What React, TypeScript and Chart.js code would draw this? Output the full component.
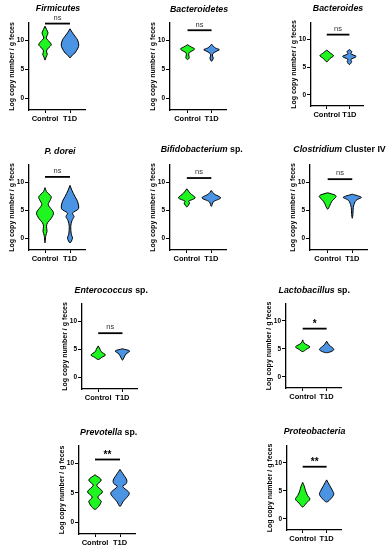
import React, { useEffect, useRef } from 'react';
import { Chart, registerables } from 'chart.js';

Chart.register(...registerables);

// ---------------- data ----------------
const groups = ['Control', 'T1D'];
const yTickValues = [0, 5, 10];
const yAxisLabel = 'Log copy number / g feces';

// violin outlines: [log copy number, half width (category units)], from top to bottom
const firmicutesControl = [[12.45, 0], [11.9, 0.06], [11.3, 0.12], [10.8, 0.08], [10.4, 0.05], [9.8, 0.17], [9.25, 0.25], [8.7, 0.14], [8.2, 0.06], [7.6, 0.09], [7.1, 0.04], [6.6, 0]];
const firmicutesT1D = [[12.0, 0], [11.3, 0.1], [10.6, 0.22], [10.1, 0.3], [9.25, 0.35], [8.7, 0.32], [7.8, 0.19], [7.5, 0.1], [7.0, 0]];
const bacteroidetesControl = [[9.25, 0], [8.85, 0.16], [8.55, 0.29], [8.3, 0.24], [7.9, 0.07], [7.5, 0.05], [7.0, 0.07], [6.7, 0]];
const bacteroidetesT1D = [[9.35, 0], [9.0, 0.07], [8.7, 0.16], [8.4, 0.32], [8.1, 0.19], [7.7, 0.05], [7.3, 0.04], [6.95, 0.07], [6.4, 0]];
const bacteroidesControl = [[8.1, 0], [7.6, 0.15], [7.1, 0.3], [6.6, 0.15], [6.0, 0]];
const bacteroidesT1D = [[8.2, 0], [7.8, 0.11], [7.45, 0.06], [6.95, 0.3], [6.4, 0.06], [6.0, 0.1], [5.5, 0]];
const pDoreiControl = [[9.0, 0], [8.3, 0.06], [7.4, 0.25], [6.9, 0.22], [6.0, 0.13], [4.6, 0.34], [3.6, 0.25], [2.8, 0.1], [2.2, 0.06], [1.3, 0.08], [0.5, 0.03], [-0.75, 0]];
const pDoreiT1D = [[9.4, 0], [8.5, 0.08], [7.4, 0.2], [6.6, 0.3], [5.3, 0.34], [4.5, 0.1], [3.9, 0.16], [3.2, 0.08], [2.2, 0.03], [0.8, 0.05], [0.1, 0.1], [-0.75, 0]];
const bifidoControl = [[8.8, 0], [8.0, 0.14], [7.2, 0.34], [6.6, 0.07], [6.3, 0.11], [5.6, 0]];
const bifidoT1D = [[8.5, 0], [7.9, 0.11], [7.2, 0.38], [6.5, 0.08], [5.7, 0]];
const clostridiumControl = [[8.1, 0], [7.7, 0.3], [7.4, 0.34], [6.6, 0.17], [5.8, 0.08], [5.2, 0]];
const clostridiumT1D = [[7.85, 0], [7.3, 0.37], [6.9, 0.2], [6.5, 0.11], [5.5, 0.04], [4.5, 0.03], [3.6, 0]];
const enterococcusControl = [[5.6, 0], [5.0, 0.08], [4.6, 0.12], [4.0, 0.3], [3.6, 0.15], [3.2, 0]];
const enterococcusT1D = [[5.1, 0], [4.7, 0.3], [4.2, 0.15], [3.6, 0.07], [3.1, 0]];
const lactobacillusControl = [[6.6, 0], [6.0, 0.06], [5.35, 0.3], [4.9, 0.15], [4.5, 0]];
const lactobacillusT1D = [[6.35, 0], [5.7, 0.1], [4.85, 0.3], [4.3, 0]];
const prevotellaControl = [[8.1, 0], [7.2, 0.25], [6.3, 0.07], [5.2, 0.3], [4.3, 0.11], [3.5, 0.25], [2.2, 0]];
const prevotellaT1D = [[9.0, 0], [8.3, 0.11], [7.2, 0.27], [6.6, 0.25], [6.1, 0.11], [4.95, 0.37], [3.5, 0.12], [2.7, 0]];
const proteobacteriaControl = [[6.5, 0], [5.8, 0.07], [5.0, 0.12], [4.2, 0.2], [3.5, 0.3], [2.8, 0.15], [2.1, 0]];
const proteobacteriaT1D = [[6.95, 0], [6.0, 0.12], [5.0, 0.25], [4.4, 0.3], [3.7, 0.2], [3.0, 0]];

// medians [Control, T1D]
const medians = [[9.25, 9.25], [8.5, 8.4], [7.1, 7.0], [4.4, 5.3], [7.2, 7.2], [7.0, 7.1], [4.1, 4.4], [5.3, 4.9], [5.0, 5.4], [3.9, 4.6]];
// significance bar heights and labels
const sigHeights = [12.9, 11.75, 10.9, 10.9, 10.7, 10.5, 7.85, 8.6, 10.7, 9.3];
const sigLabels = ['ns', 'ns', 'ns', 'ns', 'ns', 'ns', 'ns', '*', '**', '**'];
// titles: [text, italic]
const titles: [string, boolean][][] = [
  [['Firmicutes', true]],
  [['Bacteroidetes', true]],
  [['Bacteroides', true]],
  [['P. dorei', true]],
  [['Bifidobacterium', true], [' sp.', false]],
  [['Clostridium', true], [' Cluster IV', false]],
  [['Enterococcus', true], [' sp.', false]],
  [['Lactobacillus', true], [' sp.', false]],
  [['Prevotella', true], [' sp.', false]],
  [['Proteobacteria', true]],
];
const violins = [
  [firmicutesControl, firmicutesT1D],
  [bacteroidetesControl, bacteroidetesT1D],
  [bacteroidesControl, bacteroidesT1D],
  [pDoreiControl, pDoreiT1D],
  [bifidoControl, bifidoT1D],
  [clostridiumControl, clostridiumT1D],
  [enterococcusControl, enterococcusT1D],
  [lactobacillusControl, lactobacillusT1D],
  [prevotellaControl, prevotellaT1D],
  [proteobacteriaControl, proteobacteriaT1D],
];

// ---------------- layout (page pixels) ----------------
// axisL: y axis x; ctrl/t1d: category centres; t10/t0: pixel of ticks 10 and 0; title centre
const layouts = [
  { axisL: 29, ctrl: 45, t1d: 70, t10: 40.7, t0: 98.3, tx: 58, ty: 9 },
  { axisL: 170, ctrl: 187.5, t1d: 211.5, t10: 40.7, t0: 98.3, tx: 199, ty: 9.3 },
  { axisL: 310.5, ctrl: 326.7, t1d: 349.3, t10: 39.3, t0: 95, tx: 338, ty: 8.3 },
  { axisL: 29, ctrl: 45, t1d: 70, t10: 181.7, t0: 239, tx: 60, ty: 151.7 },
  { axisL: 170, ctrl: 186.7, t1d: 211, t10: 181.7, t0: 239, tx: 201.7, ty: 150 },
  { axisL: 310, ctrl: 327.7, t1d: 352.3, t10: 181.7, t0: 239, tx: 339.5, ty: 150 },
  { axisL: 81.5, ctrl: 98.3, t1d: 122.7, t10: 321, t0: 377.3, tx: 111.2, ty: 290.7 },
  { axisL: 286, ctrl: 302.7, t1d: 326.7, t10: 321, t0: 377, tx: 314.2, ty: 290.7 },
  { axisL: 79.3, ctrl: 95, t1d: 120, t10: 463.3, t0: 522.3, tx: 108.7, ty: 432.7 },
  { axisL: 287.3, ctrl: 302.7, t1d: 326.7, t10: 462.3, t0: 518.3, tx: 314.5, ty: 431.7 },
];

const FAMILY = '"Liberation Sans", Arial, Helvetica, sans-serif';
const GREEN = '#1ff51f';
const BLUE = '#4b93e3';
const Y_MIN = -2;
const Y_MAX = 13;
const YW = 36;
const TOP = 30;
const RIGHT = 30;
const XH = 24;

function outline(profile: number[][], c: number) {
  const right = profile.map(([y, w]) => ({ x: c + w, y }));
  const left = profile.slice(0, -1).reverse().map(([y, w]) => ({ x: c - w, y }));
  return [...right, ...left];
}

function halfWidthAt(profile: number[][], v: number) {
  for (let i = 0; i < profile.length - 1; i++) {
    const [y0, w0] = profile[i];
    const [y1, w1] = profile[i + 1];
    if (v <= y0 && v >= y1) {
      const t = (y0 - v) / (y0 - y1 || 1);
      return w0 + (w1 - w0) * t;
    }
  }
  return 0;
}

function Panel({ index }: { index: number }) {
  const ref = useRef<HTMLCanvasElement | null>(null);
  const L = layouts[index];
  const uy = (L.t0 - L.t10) / 10;
  const ux = L.t1d - L.ctrl;
  const plotTop = Math.round(L.t10 - (Y_MAX - 10) * uy);
  const plotBottom = Math.round(L.t0 - Y_MIN * uy);
  const axisL = Math.round(L.axisL);
  const xMin = (axisL - L.ctrl) / ux;
  const xMax = 1.6;
  const plotW = Math.round(L.ctrl + xMax * ux - axisL);
  const left = axisL - YW;
  const top = plotTop - TOP;
  const width = YW + plotW + RIGHT;
  const height = TOP + (plotBottom - plotTop) + XH;

  useEffect(() => {
    document.body.style.margin = '0';
    const canvas = ref.current;
    if (!canvas) return;
    const datasets: any[] = [];
    violins[index].forEach((profile, g) => {
      datasets.push({
        data: outline(profile, g),
        fill: 'shape',
        backgroundColor: g === 0 ? GREEN : BLUE,
        borderColor: '#000',
        borderWidth: 1,
        pointRadius: 0,
        tension: 0.3,
      });
      const m = medians[index][g];
      const w = halfWidthAt(profile, m);
      datasets.push({
        data: [{ x: g - w, y: m }, { x: g + w, y: m }],
        fill: false,
        borderColor: '#222',
        borderWidth: 0.8,
        borderDash: [1.5, 1.5],
        pointRadius: 0,
      });
    });
    datasets.push({
      data: [{ x: 0, y: sigHeights[index] }, { x: 1, y: sigHeights[index] }],
      fill: false,
      borderColor: '#000',
      borderWidth: 1.8,
      pointRadius: 0,
      clip: false,
    });

    const titlePlugin = {
      id: 'panelTitle',
      afterDraw(chart: any) {
        const ctx = chart.ctx;
        ctx.save();
        ctx.fillStyle = '#000';
        ctx.textBaseline = 'middle';
        ctx.textAlign = 'left';
        const segs = titles[index];
        const fonts = segs.map(([, it]) => `${it ? 'italic ' : ''}bold 8.8px ${FAMILY}`);
        let total = 0;
        const widths = segs.map(([t], i) => {
          ctx.font = fonts[i];
          const w = ctx.measureText(t).width;
          total += w;
          return w;
        });
        let x = L.tx - left - total / 2;
        const y = L.ty - top;
        segs.forEach(([t], i) => {
          ctx.font = fonts[i];
          ctx.fillText(t, x, y);
          x += widths[i];
        });
        ctx.restore();
      },
    };
    const sigPlugin = {
      id: 'sigText',
      afterDatasetsDraw(chart: any) {
        const { ctx, scales } = chart;
        const px = scales.x.getPixelForValue(0.5);
        const py = scales.y.getPixelForValue(sigHeights[index]);
        const label = sigLabels[index];
        ctx.save();
        ctx.textAlign = 'center';
        ctx.textBaseline = 'bottom';
        if (label === 'ns') {
          ctx.font = `7.5px ${FAMILY}`;
          ctx.fillStyle = '#333';
          ctx.fillText(label, px, py - 2);
        } else {
          ctx.font = `bold 10px ${FAMILY}`;
          ctx.fillStyle = '#000';
          ctx.fillText(label, px, py + 1);
        }
        ctx.restore();
      },
    };

    const chart = new Chart(canvas, {
      type: 'line',
      data: { datasets },
      options: {
        animation: false,
        responsive: false,
        events: [],
        layout: { padding: { top: TOP, right: RIGHT, left: 0, bottom: 0 } },
        plugins: { legend: { display: false }, tooltip: { enabled: false }, title: { display: false } },
        scales: {
          x: {
            type: 'linear',
            min: xMin,
            max: xMax,
            afterFit: (s: any) => { s.height = XH; },
            afterBuildTicks: (s: any) => { s.ticks = [{ value: 0 }, { value: 1 }]; },
            ticks: {
              callback: (v: any) => groups[v],
              font: { family: FAMILY, size: 7.5, weight: 'bold' },
              color: '#000',
              padding: 1,
              maxRotation: 0,
              autoSkip: false,
            },
            grid: { display: true, drawOnChartArea: false, drawTicks: true, tickLength: 3, color: '#000', lineWidth: 1 },
            border: { display: true, color: '#000', width: 1.3 },
          },
          y: {
            type: 'linear',
            min: Y_MIN,
            max: Y_MAX,
            afterFit: (s: any) => { s.width = YW; },
            afterBuildTicks: (s: any) => { s.ticks = yTickValues.map((v) => ({ value: v })); },
            ticks: {
              callback: (v: any) => String(v),
              font: { family: FAMILY, size: 6.5, weight: 'bold' },
              color: '#000',
              padding: 1,
            },
            grid: { display: true, drawOnChartArea: false, drawTicks: true, tickLength: 4, color: '#000', lineWidth: 1 },
            border: { display: true, color: '#000', width: 1.3 },
            title: {
              display: true,
              text: yAxisLabel,
              font: { family: FAMILY, size: 7, weight: 'bold' },
              color: '#000',
              padding: { top: 14.8, bottom: 0 },
            },
          },
        },
      } as any,
      plugins: [titlePlugin, sigPlugin],
    });
    return () => chart.destroy();
  }, [index]);

  return (
    <canvas
      ref={ref}
      width={width}
      height={height}
      style={{ position: 'absolute', left, top, width, height }}
    />
  );
}

export default function App() {
  return (
    <div style={{ position: 'absolute', left: 0, top: 0, width: 389, height: 550, background: '#fff', overflow: 'hidden' }}>
      {layouts.map((_, i) => (
        <Panel key={i} index={i} />
      ))}
    </div>
  );
}
